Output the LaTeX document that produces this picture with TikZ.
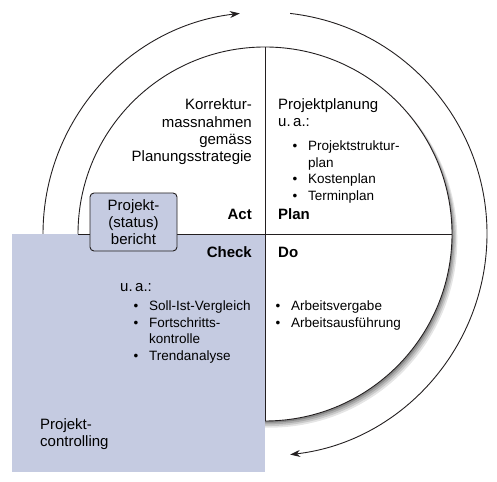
\documentclass[tikz,border=0pt]{standalone}
\usepackage{fontspec}
\setmainfont{Liberation Sans}
\usepackage{tikz}
\usetikzlibrary{
  arrows.meta,
  positioning,
  calc
}
\definecolor{ctrlblue}{RGB}{197, 203, 225}
\definecolor{linegray}{RGB}{35, 31, 32}
\tikzset{
  txt/.style = {inner sep=0pt, font=\fontsize{15}{17.2}\selectfont},
  head/.style = {inner sep=0pt, font=\fontsize{15}{17}\selectfont\bfseries},
  items/.style = {inner sep=0pt, anchor=base west,
    font=\fontsize{13.5}{16.5}\selectfont},
  cycarr/.style = {-{Stealth[length=10pt, width=7pt]}, draw=linegray,
    line width=0.9pt},
  divline/.style = {draw=linegray, line width=0.9pt},
  repbox/.style = {
    rectangle, rounded corners=4pt,
    draw=linegray, line width=0.9pt,
    fill=ctrlblue, minimum width=87pt, minimum height=58pt,
    align=center, inner sep=0pt, font=\fontsize{15}{17}\selectfont
  },
}
\newcommand{\blt}{\textbullet}

\begin{document}
\begin{tikzpicture}[x=1pt, y=1pt]
  \useasboundingbox (0,0) rectangle (497,481);

  \coordinate (c) at (265,247);

  % PDCA cycle arrows
  \draw[cycarr] ($(c)+(180:222)$) arc[start angle=180, end angle=96.5, radius=222];
  \draw[cycarr] ($(c)+(83.5:222)$) arc[start angle=83.5, end angle=-83.5, radius=222];

  % Circle with soft shadow
  \foreach \s/\op in {7/0.10, 5.5/0.12, 4/0.15, 2.5/0.2}
    \fill[black, opacity=\op] ($(c)+(0.6*\s,-0.8*\s)$) circle[radius=186+0.3*\s];
  \draw[divline, fill=white] (c) circle[radius=187];

  % Controlling area
  \fill[ctrlblue] (12,9) rectangle (265,247);

  % Quadrants
  \draw[divline] ($(c)+(0,187)$) -- ($(c)+(0,-187)$);
  \draw[divline] ($(c)+(-187,0)$) -- ($(c)+(187,0)$);

  \node[repbox] (bericht) at (133.5,259) {Projekt-\\(status)\\bericht};

  % Act
  \node[txt, align=right, anchor=base east] (korr) at (252,319.5)
    {Korrektur-\\massnahmen\\gemäss\\Planungsstrategie};
  \node[head, anchor=base east] (act) at (252,261) {Act};

  % Plan
  \node[txt, align=left, anchor=base west] (planung) at (278,354)
    {Projektplanung\\u.\,a.:};
  \node[items] (planlist) at (292.3,330)
    {\begin{tabular}[t]{@{}l@{\hspace{11pt}}l@{}}
      \blt & Projektstruktur-\\
           & plan\\
      \blt & Kostenplan\\
      \blt & Terminplan
    \end{tabular}};
  \node[head, anchor=base west] (plan) at (278,261) {Plan};

  % Check
  \node[head, anchor=base east] (check) at (252,223) {Check};
  \node[txt, anchor=base west] (chkua) at (120,189) {u.\,a.:};
  \node[items] (chklist) at (133.3,170)
    {\begin{tabular}[t]{@{}l@{\hspace{11pt}}l@{}}
      \blt & Soll-Ist-Vergleich\\
      \blt & Fortschritts-\\
           & kontrolle\\
      \blt & Trendanalyse
    \end{tabular}};

  % Do
  \node[head, anchor=base west] (do) at (278,223) {Do};
  \node[items] (dolist) at (275.3,170)
    {\begin{tabular}[t]{@{}l@{\hspace{11pt}}l@{}}
      \blt & Arbeitsvergabe\\
      \blt & Arbeitsausführung
    \end{tabular}};

  \node[txt, align=left, anchor=base west] (ctrl) at (40,34)
    {Projekt-\\controlling};

\end{tikzpicture}
\end{document}
